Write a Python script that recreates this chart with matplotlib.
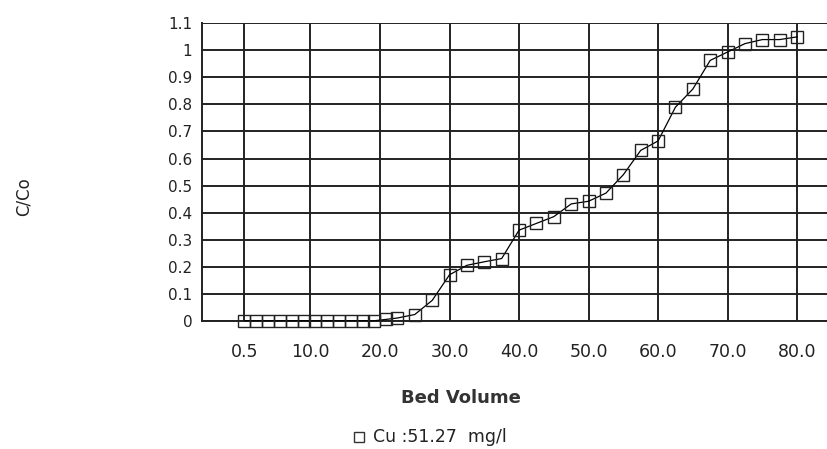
import matplotlib
matplotlib.use("Agg")
import matplotlib.pyplot as plt
from matplotlib.ticker import FixedLocator, FuncFormatter

# Breakthrough data
bed_volume = [0.5, 2.2, 3.9, 5.6, 7.3, 9.0, 10.7, 12.4, 14.1, 15.8, 17.5, 19.2,
              20.9, 22.5, 25.0, 27.5, 30.0, 32.5, 35.0, 37.5, 40.0, 42.5, 45.0,
              47.5, 50.0, 52.5, 55.0, 57.5, 60.0, 62.5, 65.0, 67.5, 70.0, 72.5,
              75.0, 77.5, 80.0]
c_co = [0.0, 0.0, 0.0, 0.0, 0.0, 0.0, 0.0, 0.0, 0.0, 0.0, 0.0, 0.0,
        0.005, 0.01, 0.023, 0.075, 0.17, 0.205, 0.218, 0.23, 0.335, 0.36, 0.385,
        0.432, 0.442, 0.472, 0.54, 0.63, 0.665, 0.79, 0.857, 0.963, 0.994, 1.025,
        1.04, 1.04, 1.05]

x_ticks = [0.5, 10, 20, 30, 40, 50, 60, 70, 80]
x_labels = ["0.5", "10.0", "20.0", "30.0", "40.0", "50.0", "60.0", "70.0", "80.0"]
y_ticks = [0, 0.1, 0.2, 0.3, 0.4, 0.5, 0.6, 0.7, 0.8, 0.9, 1.0, 1.1]

fig = plt.figure(figsize=(8.27, 4.49), dpi=100)
ax = fig.add_axes([0.2443, 0.2857, 0.7557, 0.6623])

ax.plot(bed_volume, c_co, color="black", lw=0.9, marker="s", markersize=8,
        markerfacecolor="none", markeredgecolor="#222222", markeredgewidth=1.0,
        zorder=3, clip_on=False)

ax.set_xlim(-5.6, 84.3)
ax.set_ylim(0, 1.1)
ax.xaxis.set_major_locator(FixedLocator(x_ticks))
ax.set_xticklabels(x_labels)
ax.yaxis.set_major_locator(FixedLocator(y_ticks))
ax.yaxis.set_major_formatter(FuncFormatter(lambda v, p: "%g" % round(v, 1)))

ax.grid(True, color="#222222", lw=1.4)
ax.set_axisbelow(True)
ax.tick_params(axis="both", length=0, colors="#222222")
ax.tick_params(axis="x", pad=16, labelsize=12.5)
ax.tick_params(axis="y", pad=7, labelsize=11)
for side in ["left", "bottom"]:
    ax.spines[side].set_color("#222222")
    ax.spines[side].set_linewidth(1.4)
ax.spines["right"].set_visible(False)
ax.spines["top"].set_visible(False)

fig.text(0.557, 0.113, "Bed Volume", ha="center", va="center",
         fontsize=13, fontweight="bold", color="#333333")
fig.text(0.029, 0.563, "C/Co", ha="center", va="center", rotation=90,
         fontsize=12, color="#222222")

# legend entry
fig.lines.append(plt.Line2D([0.4335], [0.0267], transform=fig.transFigure,
                            marker="s", markersize=7, markerfacecolor="none",
                            markeredgecolor="#333333", markeredgewidth=1.0,
                            linestyle="none"))
fig.text(0.451, 0.0267, "Cu :51.27  mg/l", ha="left", va="center",
         fontsize=12.5, color="#222222")

fig.savefig("out.png", dpi=100, facecolor="white")
